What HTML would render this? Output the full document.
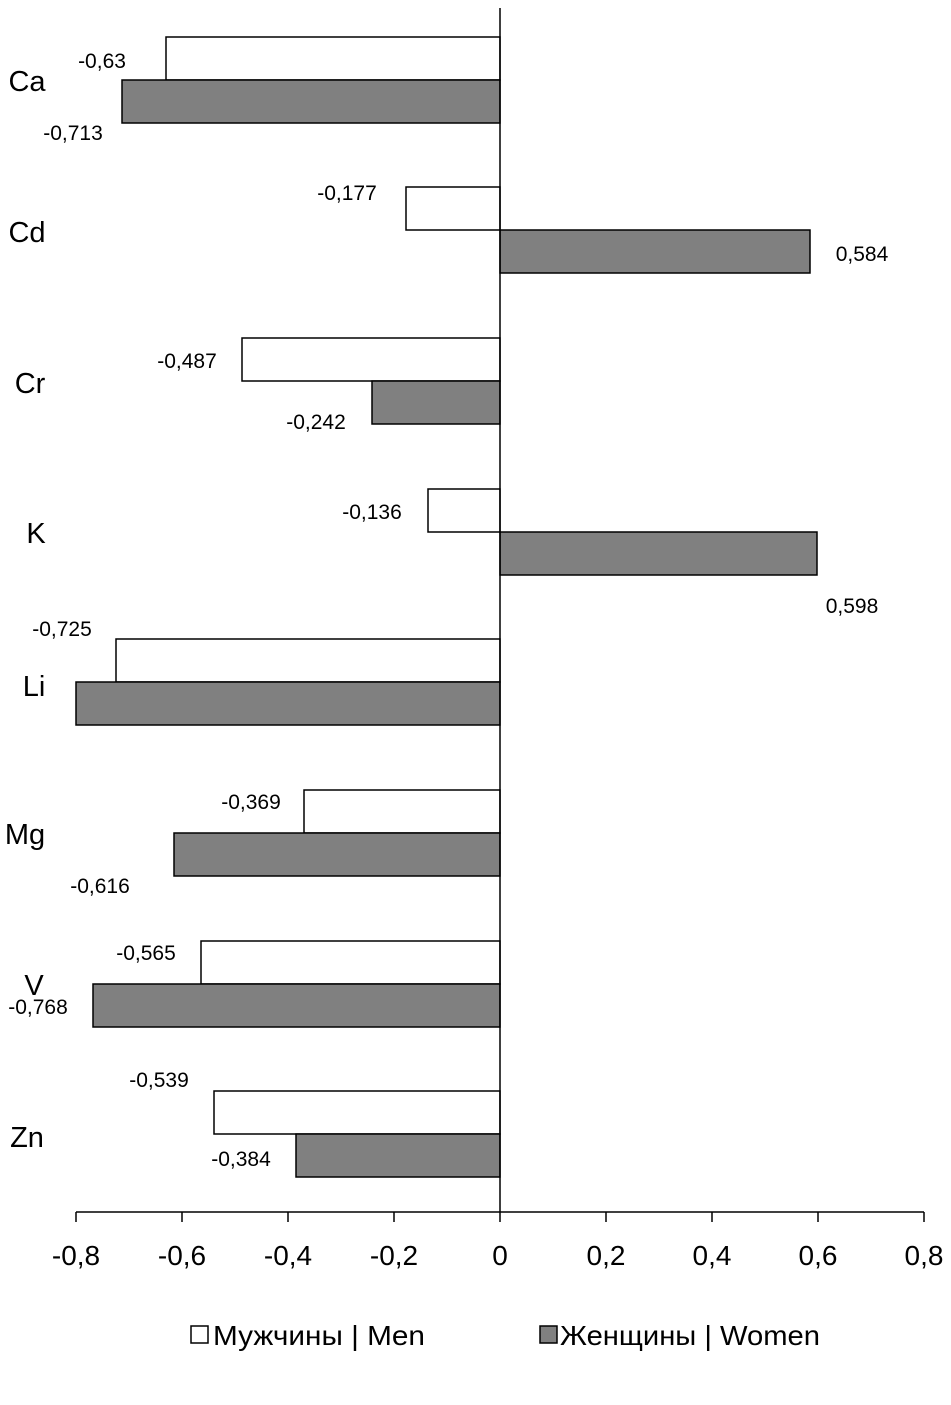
<!DOCTYPE html>
<html><head><meta charset="utf-8"><style>
body{margin:0;background:#fff}
svg text{font-family:"Liberation Sans",sans-serif;fill:#000}
</style></head><body>
<svg width="951" height="1400" viewBox="0 0 951 1400" xmlns="http://www.w3.org/2000/svg">
<g stroke="#000" stroke-width="1.5">
<rect x="166" y="37" width="334" height="43" fill="#fff"/>
<rect x="122" y="80" width="378" height="43" fill="#808080"/>
<rect x="406" y="187" width="94" height="43" fill="#fff"/>
<rect x="500" y="230" width="310" height="43" fill="#808080"/>
<rect x="242" y="338" width="258" height="43" fill="#fff"/>
<rect x="372" y="381" width="128" height="43" fill="#808080"/>
<rect x="428" y="489" width="72" height="43" fill="#fff"/>
<rect x="500" y="532" width="317" height="43" fill="#808080"/>
<rect x="116" y="639" width="384" height="43" fill="#fff"/>
<rect x="76" y="682" width="424" height="43" fill="#808080"/>
<rect x="304" y="790" width="196" height="43" fill="#fff"/>
<rect x="174" y="833" width="326" height="43" fill="#808080"/>
<rect x="201" y="941" width="299" height="43" fill="#fff"/>
<rect x="93" y="984" width="407" height="43" fill="#808080"/>
<rect x="214" y="1091" width="286" height="43" fill="#fff"/>
<rect x="296" y="1134" width="204" height="43" fill="#808080"/>
<line x1="500" y1="8" x2="500" y2="1212"/>
<line x1="76" y1="1212" x2="924" y2="1212"/>
<line x1="76" y1="1212" x2="76" y2="1222"/>
<line x1="182" y1="1212" x2="182" y2="1222"/>
<line x1="288" y1="1212" x2="288" y2="1222"/>
<line x1="394" y1="1212" x2="394" y2="1222"/>
<line x1="500" y1="1212" x2="500" y2="1222"/>
<line x1="606" y1="1212" x2="606" y2="1222"/>
<line x1="712" y1="1212" x2="712" y2="1222"/>
<line x1="818" y1="1212" x2="818" y2="1222"/>
<line x1="924" y1="1212" x2="924" y2="1222"/>
</g>
<g font-size="28" text-anchor="middle">
<text x="76" y="1265">-0,8</text><text x="182" y="1265">-0,6</text><text x="288" y="1265">-0,4</text>
<text x="394" y="1265">-0,2</text><text x="500" y="1265">0</text><text x="606" y="1265">0,2</text>
<text x="712" y="1265">0,4</text><text x="818" y="1265">0,6</text><text x="924" y="1265">0,8</text>
</g>
<g font-size="29" text-anchor="middle">
<text x="27" y="91">Ca</text><text x="27" y="242">Cd</text><text x="30" y="393">Cr</text>
<text x="36" y="543">K</text><text x="34" y="696">Li</text><text x="25" y="844">Mg</text>
<text x="34" y="995">V</text><text x="27" y="1147">Zn</text>
</g>
<g font-size="21" text-anchor="middle">
<text x="102" y="68">-0,63</text><text x="73" y="140">-0,713</text>
<text x="347" y="200">-0,177</text><text x="862" y="261">0,584</text>
<text x="187" y="368">-0,487</text><text x="316" y="429">-0,242</text>
<text x="372" y="519">-0,136</text><text x="852" y="613">0,598</text>
<text x="62" y="636">-0,725</text>
<text x="251" y="809">-0,369</text><text x="100" y="893">-0,616</text>
<text x="146" y="960">-0,565</text><text x="38" y="1014">-0,768</text>
<text x="159" y="1087">-0,539</text><text x="241" y="1166">-0,384</text>
</g>
<rect x="191" y="1326" width="17" height="17" fill="#fff" stroke="#000" stroke-width="1.5"/>
<text x="213" y="1345" font-size="28" textLength="212" lengthAdjust="spacingAndGlyphs">Мужчины | Men</text>
<rect x="540" y="1326" width="17" height="17" fill="#808080" stroke="#000" stroke-width="1.5"/>
<text x="560" y="1345" font-size="28" textLength="260" lengthAdjust="spacingAndGlyphs">Женщины | Women</text>
</svg>
</body></html>
